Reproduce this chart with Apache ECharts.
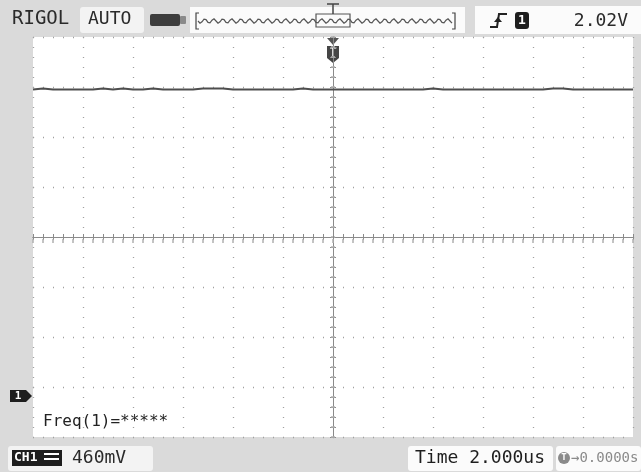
<!DOCTYPE html>
<html>
<head>
<meta charset="utf-8">
<script src="https://cdn.jsdelivr.net/npm/echarts@6/dist/echarts.min.js"></script>
<style>
  html, body { margin: 0; padding: 0; background: #dadada; }
  #chart { width: 641px; height: 472px; }
</style>
</head>
<body>
<div id="chart"></div>
<script>
// time base 2 us/div, 12 divisions; vertical 460 mV/div, 8 divisions
var timesUs = [
  -12, -11.6, -11.2, -10.8, -10.4, -10, -9.6, -9.2, -8.8, -8.4,
  -8, -7.6, -7.2, -6.8, -6.4, -6, -5.6, -5.2, -4.8, -4.4,
  -4, -3.6, -3.2, -2.8, -2.4, -2, -1.6, -1.2, -0.8, -0.4,
  0, 0.4, 0.8, 1.2, 1.6, 2, 2.4, 2.8, 3.2, 3.6,
  4, 4.4, 4.8, 5.2, 5.6, 6, 6.4, 6.8, 7.2, 7.6,
  8, 8.4, 8.8, 9.2, 9.6, 10, 10.4, 10.8, 11.2, 11.6, 12
];
var ch1Volts = [
  2.81, 2.82, 2.81, 2.81, 2.81, 2.81, 2.81, 2.82, 2.81, 2.82,
  2.81, 2.81, 2.82, 2.81, 2.81, 2.81, 2.81, 2.82, 2.82, 2.82,
  2.81, 2.81, 2.81, 2.81, 2.81, 2.81, 2.81, 2.82, 2.81, 2.81,
  2.81, 2.81, 2.81, 2.81, 2.81, 2.81, 2.81, 2.81, 2.81, 2.81,
  2.82, 2.81, 2.81, 2.81, 2.81, 2.81, 2.81, 2.81, 2.81, 2.81,
  2.81, 2.81, 2.82, 2.82, 2.81, 2.81, 2.81, 2.81, 2.81, 2.81, 2.81
];
var voltsPerDiv = 0.46;
var groundDiv = -3.16;   // ch1 ground marker, divisions from centre

var topTexts = ['RIGOL', 'AUTO', '2.02V'];
var bottomTexts = ['460mV', 'Time 2.000us', '\u21920.0000s'];
var measureText = 'Freq(1)=*****';

var mono = '"DejaVu Sans Mono", monospace';

var chart = echarts.init(document.getElementById('chart'));

// trace in screen divisions
var traceData = timesUs.map(function (t, i) {
  return [t, ch1Volts[i] / voltsPerDiv + groundDiv];
});

// little sine squiggle for the memory bar icon
var squiggle = [];
for (var px = 198; px <= 453; px += 2) {
  squiggle.push([px, 21 + 2.2 * Math.sin((px - 198) / 9 * Math.PI * 2)]);
}

var dotted = { type: [1, 9], color: '#a0a0a0', width: 1.3 };
var frameLine = { show: true, lineStyle: { color: '#8a8a8a', width: 1 } };
var rulerTick = { color: '#b0b0b0', width: 1.5 };

var option = {
  animation: false,
  backgroundColor: '#dadada',
  grid: {
    left: 33, top: 37, width: 600, height: 400,
    show: true, backgroundColor: '#ffffff', borderWidth: 0
  },
  xAxis: [
    {
      type: 'value', min: -12, max: 12, interval: 2, position: 'bottom',
      axisLine: frameLine,
      axisTick: { show: true, inside: true, length: 3, lineStyle: { color: '#8a8a8a' } },
      minorTick: { show: true, splitNumber: 5, length: 3, lineStyle: { color: '#8a8a8a' } },
      axisLabel: { show: false },
      splitLine: { show: true, lineStyle: dotted }
    },
    {
      type: 'value', min: -12, max: 12, interval: 2, position: 'top',
      axisLine: frameLine,
      axisTick: { show: true, inside: true, length: 3, lineStyle: { color: '#8a8a8a' } },
      minorTick: { show: true, splitNumber: 5, length: 3, lineStyle: { color: '#8a8a8a' } },
      axisLabel: { show: false },
      splitLine: { show: false }
    },
    {
      // centre horizontal tick ruler
      type: 'value', min: -12, max: 12, interval: 2, position: 'bottom', offset: -202,
      axisLine: { show: false },
      axisTick: { show: true, length: 4, lineStyle: rulerTick },
      minorTick: { show: true, splitNumber: 5, length: 4, lineStyle: rulerTick },
      axisLabel: { show: false },
      splitLine: { show: false }
    }
  ],
  yAxis: [
    {
      type: 'value', min: -4, max: 4, interval: 1, position: 'left',
      axisLine: frameLine,
      axisTick: { show: true, inside: true, length: 3, lineStyle: { color: '#8a8a8a' } },
      minorTick: { show: true, splitNumber: 5, length: 3, lineStyle: { color: '#8a8a8a' } },
      axisLabel: { show: false },
      splitLine: { show: true, lineStyle: dotted }
    },
    {
      type: 'value', min: -4, max: 4, interval: 1, position: 'right',
      axisLine: frameLine,
      axisTick: { show: true, inside: true, length: 3, lineStyle: { color: '#8a8a8a' } },
      minorTick: { show: true, splitNumber: 5, length: 3, lineStyle: { color: '#8a8a8a' } },
      axisLabel: { show: false },
      splitLine: { show: false }
    },
    {
      // centre vertical tick ruler
      type: 'value', min: -4, max: 4, interval: 1, position: 'left', offset: -302,
      axisLine: { show: false },
      axisTick: { show: true, length: 4, lineStyle: rulerTick },
      minorTick: { show: true, splitNumber: 5, length: 4, lineStyle: rulerTick },
      axisLabel: { show: false },
      splitLine: { show: false }
    }
  ],
  series: [
    {
      name: 'CH1',
      type: 'line',
      xAxisIndex: 0,
      yAxisIndex: 0,
      showSymbol: false,
      lineStyle: { color: '#4e4e4e', width: 2 },
      data: traceData
    }
  ],
  graphic: [
    // header
    { type: 'text', left: 12, top: 10, style: { text: topTexts[0], font: '19px ' + mono, fill: '#2a2a2a' } },
    { type: 'rect', shape: { x: 80, y: 7, width: 64, height: 26, r: 3 }, style: { fill: '#f3f3f3' } },
    { type: 'text', left: 88, top: 10, style: { text: topTexts[1], font: '18px ' + mono, fill: '#2a2a2a' } },
    { type: 'rect', shape: { x: 150, y: 14, width: 30, height: 12, r: 2 }, style: { fill: '#3c3c3c' } },
    { type: 'rect', shape: { x: 180, y: 16, width: 6, height: 8, r: 1 }, style: { fill: '#8a8a8a' } },
    { type: 'rect', shape: { x: 190, y: 7, width: 275, height: 26 }, style: { fill: '#fbfbfb' } },
    { type: 'polyline', shape: { points: [[199, 13], [196, 13], [196, 29], [199, 29]] }, style: { stroke: '#444', lineWidth: 1.2, fill: null } },
    { type: 'polyline', shape: { points: [[452, 13], [455, 13], [455, 29], [452, 29]] }, style: { stroke: '#444', lineWidth: 1.2, fill: null } },
    { type: 'polyline', shape: { points: squiggle }, style: { stroke: '#555', lineWidth: 1.2, fill: null } },
    { type: 'rect', shape: { x: 316, y: 14, width: 34, height: 13 }, style: { fill: null, stroke: '#555', lineWidth: 1.2 } },
    { type: 'polyline', shape: { points: [[327, 4], [339, 4]] }, style: { stroke: '#444', lineWidth: 1.5 } },
    { type: 'polyline', shape: { points: [[333, 4], [333, 14]] }, style: { stroke: '#444', lineWidth: 1.5 } },
    { type: 'rect', shape: { x: 475, y: 6, width: 166, height: 28 }, style: { fill: '#fbfbfb' } },
    { type: 'polyline', shape: { points: [[490, 27], [497, 27], [499, 14], [507, 14]] }, style: { stroke: '#222', lineWidth: 2, fill: null } },
    { type: 'polygon', shape: { points: [[494, 22], [502, 22], [498, 17]] }, style: { fill: '#222' } },
    { type: 'rect', shape: { x: 515, y: 12, width: 14, height: 17, r: 3 }, style: { fill: '#1e1e1e' } },
    { type: 'text', x: 522, y: 21, style: { text: '1', font: 'bold 13px ' + mono, fill: '#fff', align: 'center', verticalAlign: 'middle' } },
    { type: 'text', x: 628, y: 21, style: { text: topTexts[2], font: '18px ' + mono, fill: '#2a2a2a', align: 'right', verticalAlign: 'middle' } },

    // trigger position marker
    { type: 'polygon', shape: { points: [[327, 38], [339, 38], [333, 45]] }, style: { fill: '#555' } },
    { type: 'polygon', shape: { points: [[327, 46], [339, 46], [339, 58], [333, 63], [327, 58]] }, style: { fill: '#454545' } },
    { type: 'text', x: 333, y: 53, style: { text: 'T', font: 'bold 12px ' + mono, fill: '#fff', align: 'center', verticalAlign: 'middle' } },

    // channel 1 ground marker
    { type: 'polygon', shape: { points: [[10, 390], [26, 390], [32, 396], [26, 402], [10, 402]] }, style: { fill: '#1e1e1e' } },
    { type: 'text', x: 18, y: 396, style: { text: '1', font: 'bold 11px ' + mono, fill: '#fff', align: 'center', verticalAlign: 'middle' } },

    // measurement
    { type: 'text', x: 43, y: 422, style: { text: measureText, font: '16px ' + mono, fill: '#222', verticalAlign: 'middle' } },

    // footer
    { type: 'rect', shape: { x: 8, y: 446, width: 145, height: 25, r: 3 }, style: { fill: '#f3f3f3' } },
    { type: 'rect', shape: { x: 12, y: 450, width: 50, height: 16 }, style: { fill: '#1e1e1e' } },
    { type: 'text', x: 14, y: 458, style: { text: 'CH1', font: 'bold 13px ' + mono, fill: '#fff', verticalAlign: 'middle' } },
    { type: 'rect', shape: { x: 44, y: 453, width: 15, height: 2 }, style: { fill: '#fff' } },
    { type: 'rect', shape: { x: 44, y: 458, width: 15, height: 2 }, style: { fill: '#fff' } },
    { type: 'text', x: 72, y: 458, style: { text: bottomTexts[0], font: '18px ' + mono, fill: '#2a2a2a', verticalAlign: 'middle' } },
    { type: 'rect', shape: { x: 408, y: 446, width: 145, height: 25, r: 3 }, style: { fill: '#fbfbfb' } },
    { type: 'text', x: 415, y: 458, style: { text: bottomTexts[1], font: '18px ' + mono, fill: '#1e1e1e', verticalAlign: 'middle' } },
    { type: 'rect', shape: { x: 556, y: 446, width: 85, height: 25, r: 3 }, style: { fill: '#fbfbfb' } },
    { type: 'circle', shape: { cx: 564, cy: 458, r: 6 }, style: { fill: '#8a8a8a' } },
    { type: 'text', x: 564, y: 458, style: { text: 'T', font: 'bold 9px ' + mono, fill: '#fff', align: 'center', verticalAlign: 'middle' } },
    { type: 'text', x: 571, y: 458, style: { text: bottomTexts[2], font: '14px ' + mono, fill: '#8a8a8a', verticalAlign: 'middle' } }
  ]
};

chart.setOption(option);
</script>
</body>
</html>
